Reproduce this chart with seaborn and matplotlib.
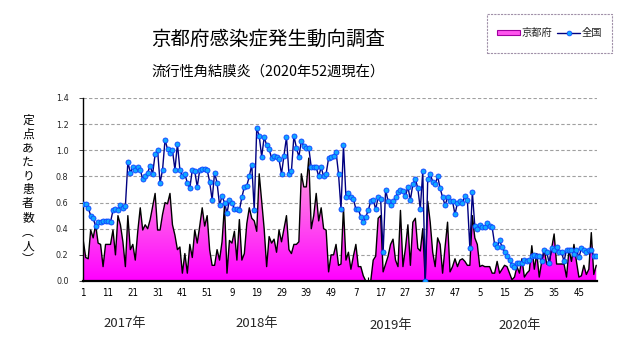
import numpy as np
import pandas as pd
import matplotlib
matplotlib.use("Agg")
import matplotlib.pyplot as plt
import seaborn as sns
from matplotlib.patches import Patch, Rectangle
from matplotlib.lines import Line2D
from matplotlib.colors import LinearSegmentedColormap

# ---------------- data ----------------
years = ["2017年", "2018年", "2019年", "2020年"]
weeks_per_year = [52, 52, 52, 52]

kyoto_2017 = [0.31, 0.18, 0.17, 0.39, 0.33, 0.43, 0.29, 0.28, 0.11, 0.28,
              0.28, 0.28, 0.39, 0.20, 0.50, 0.43, 0.30, 0.11, 0.50, 0.24,
              0.28, 0.16, 0.38, 0.56, 0.39, 0.43, 0.40, 0.47, 0.57, 0.67,
              0.39, 0.39, 0.51, 0.60, 0.59, 0.67, 0.43, 0.35, 0.24, 0.26,
              0.06, 0.21, 0.06, 0.28, 0.18, 0.39, 0.29, 0.42, 0.56, 0.42,
              0.50, 0.24]
kyoto_2018 = [0.12, 0.12, 0.24, 0.16, 0.30, 0.58, 0.06, 0.31, 0.29, 0.38,
              0.16, 0.47, 0.16, 0.21, 0.44, 0.56, 0.48, 0.46, 0.38, 0.82,
              0.61, 0.40, 0.11, 0.34, 0.29, 0.32, 0.22, 0.39, 0.30, 0.40,
              0.50, 0.24, 0.21, 0.28, 0.28, 0.30, 0.82, 0.72, 0.72, 0.94,
              0.40, 0.50, 0.67, 0.46, 0.56, 0.40, 0.39, 0.07, 0.20, 0.20,
              0.28, 0.12]
kyoto_2019 = [0.13, 0.56, 0.16, 0.22, 0.09, 0.19, 0.28, 0.11, 0.11, 0.04,
              0.00, 0.00, 0.00, 0.16, 0.19, 0.48, 0.50, 0.07, 0.13, 0.19,
              0.28, 0.32, 0.16, 0.11, 0.54, 0.11, 0.25, 0.43, 0.12, 0.45,
              0.48, 0.25, 0.23, 0.40, 0.00, 0.61, 0.45, 0.22, 0.11, 0.33,
              0.28, 0.06, 0.26, 0.45, 0.07, 0.11, 0.17, 0.11, 0.16, 0.17,
              0.15, 0.12]
kyoto_2020 = [0.12, 0.50, 0.33, 0.28, 0.11, 0.12, 0.11, 0.11, 0.11, 0.06,
              0.06, 0.15, 0.06, 0.09, 0.12, 0.11, 0.06, 0.01, 0.03, 0.11,
              0.06, 0.17, 0.03, 0.06, 0.08, 0.27, 0.09, 0.21, 0.03, 0.15,
              0.24, 0.13, 0.13, 0.25, 0.36, 0.13, 0.13, 0.13, 0.13, 0.03,
              0.24, 0.15, 0.28, 0.15, 0.03, 0.04, 0.12, 0.05, 0.09, 0.37,
              0.05, 0.12]

national_2017 = [0.59, 0.59, 0.56, 0.50, 0.48, 0.42, 0.45, 0.45, 0.46, 0.46,
                 0.46, 0.45, 0.54, 0.55, 0.54, 0.58, 0.56, 0.57, 0.91, 0.83,
                 0.87, 0.85, 0.87, 0.85, 0.78, 0.80, 0.83, 0.88, 0.82, 0.97,
                 1.00, 0.75, 0.85, 1.08, 1.01, 0.98, 1.00, 0.85, 1.05, 0.85,
                 0.80, 0.82, 0.75, 0.71, 0.85, 0.84, 0.72, 0.85, 0.86, 0.86,
                 0.85, 0.76]
national_2018 = [0.62, 0.83, 0.75, 0.58, 0.65, 0.60, 0.52, 0.62, 0.60, 0.55,
                 0.55, 0.54, 0.64, 0.72, 0.73, 0.80, 0.89, 0.54, 1.17, 1.11,
                 0.95, 1.10, 1.04, 1.01, 0.94, 0.96, 0.95, 0.93, 0.82, 0.96,
                 1.10, 0.82, 0.84, 1.11, 1.02, 0.95, 1.07, 1.03, 1.02, 1.02,
                 0.87, 0.87, 0.87, 0.80, 0.87, 0.80, 0.82, 0.94, 0.95, 0.96,
                 0.99, 0.82]
national_2019 = [0.55, 1.04, 0.64, 0.67, 0.64, 0.63, 0.55, 0.55, 0.49, 0.45,
                 0.49, 0.54, 0.61, 0.62, 0.55, 0.64, 0.63, 0.22, 0.70, 0.61,
                 0.58, 0.61, 0.64, 0.68, 0.70, 0.69, 0.65, 0.72, 0.62, 0.74,
                 0.78, 0.71, 0.55, 0.84, 0.00, 0.78, 0.82, 0.76, 0.74, 0.80,
                 0.71, 0.64, 0.58, 0.64, 0.61, 0.61, 0.51, 0.60, 0.61, 0.60,
                 0.65, 0.62]
national_2020 = [0.25, 0.68, 0.42, 0.40, 0.43, 0.41, 0.41, 0.44, 0.42, 0.41,
                 0.28, 0.26, 0.31, 0.26, 0.22, 0.19, 0.16, 0.12, 0.11, 0.14,
                 0.14, 0.14, 0.16, 0.15, 0.16, 0.19, 0.20, 0.19, 0.19, 0.15,
                 0.24, 0.22, 0.14, 0.25, 0.24, 0.26, 0.22, 0.22, 0.15, 0.24,
                 0.24, 0.24, 0.21, 0.24, 0.18, 0.25, 0.24, 0.22, 0.24, 0.24,
                 0.19, 0.19]

y_ticks = [0.0, 0.2, 0.4, 0.6, 0.8, 1.0, 1.2, 1.4]

kyoto = np.array(kyoto_2017 + kyoto_2018 + kyoto_2019 + kyoto_2020)
national = np.array(national_2017 + national_2018 + national_2019 + national_2020)
week_no = np.concatenate([np.arange(1, n + 1) for n in weeks_per_year])
idx = np.arange(len(kyoto))
df = pd.DataFrame({"idx": idx, "week": week_no, "kyoto": kyoto, "national": national})

# ---------------- figure ----------------
sns.set_style("white")
plt.rcParams["font.family"] = ["Noto Sans CJK JP", "DejaVu Sans"]

W, H = 631, 347
fig = plt.figure(figsize=(W / 100, H / 100), dpi=100)
fig.patch.set_facecolor("white")
ax = fig.add_axes([82.5 / W, 1 - 281 / H, (597 - 82.5) / W, (281 - 98) / H])

# gradient-filled area for Kyoto
poly = ax.fill_between(df["idx"], df["kyoto"], 0, facecolor="none", edgecolor="none")
cmap = LinearSegmentedColormap.from_list("pk", ["#FF00FF", "#FF55EE", "#FFA8E0"])
grad = np.linspace(0, 1, 256).reshape(-1, 1)
im = ax.imshow(grad, extent=[-1, len(idx), 0, 0.95], origin="lower", aspect="auto",
               cmap=cmap, zorder=1, interpolation="bilinear")
im.set_clip_path(poly.get_paths()[0], transform=ax.transData)
ax.plot(df["idx"], df["kyoto"], color="black", lw=1.0, zorder=2)

# national line
sns.lineplot(data=df, x="idx", y="national", ax=ax, color="#000080", lw=1.0,
             marker="o", markersize=3.6, markerfacecolor="#10A8FF",
             markeredgecolor="#1040FF", markeredgewidth=0.6, zorder=3)

ax.set_xlim(-0.3, len(idx) - 0.7)
ax.set_ylim(0, 1.4)
ax.set_yticks(y_ticks)
ax.set_yticklabels([f"{v:.1f}" for v in y_ticks], fontsize=6.5, family="DejaVu Sans",
                   fontstretch="condensed")
major = idx[::10]
ax.set_xticks(major)
ax.set_xticklabels([str(w) for w in week_no[::10]], fontsize=7, family="DejaVu Sans",
                   fontstretch="condensed")
ax.set_xticks(idx[5::10], minor=True)
ax.tick_params(axis="x", which="both", direction="in", length=3, width=0.8, pad=5,
               colors="black", bottom=True)
ax.tick_params(axis="y", direction="out", length=3, width=0.6, pad=7, left=True)
ax.set_xlabel("")
ax.set_ylabel("")
ax.yaxis.grid(True, linestyle=(0, (3, 2)), color="#a0a0a0", lw=0.8)
ax.xaxis.grid(False)
ax.set_axisbelow(True)
for s in ["top", "right"]:
    ax.spines[s].set_visible(False)
ax.spines["left"].set_color("black")
ax.spines["left"].set_linewidth(1.0)
ax.spines["bottom"].set_color("black")
ax.spines["bottom"].set_linewidth(1.6)

# titles
fig.text(268 / W, 1 - 39 / H, "京都府感染症発生動向調査", ha="center", va="center",
         fontsize=14, color="black")
fig.text(268 / W, 1 - 72 / H, "流行性角結膜炎（2020年52週現在）", ha="center", va="center",
         fontsize=10.3, color="black")

# vertical y label
ylab = "定点あたり患者数︵人︶"
fig.text(28 / W, 1 - 190 / H, "\n".join(ylab), ha="center", va="center",
         fontsize=8.5, linespacing=1.1, color="black")

# year labels
for yl, (xp, yp) in zip(years, [(125, 323), (257, 323), (391, 325), (520, 325)]):
    fig.text(xp / W, 1 - yp / H, yl, ha="center", va="center", fontsize=9.5)

# legend
handles = [Patch(facecolor="#FF55EE", edgecolor="#A000A0", lw=0.8),
           Line2D([0], [0], color="#000080", lw=1.0, marker="o", markersize=3.5,
                  markerfacecolor="#10A8FF", markeredgecolor="#1040FF", markeredgewidth=0.5)]
fig.legend(handles, ["京都府", "全国"], loc="center", bbox_to_anchor=(549.5 / W, 1 - 33 / H),
           ncol=2, frameon=False, fontsize=7.4, handlelength=2.2, handleheight=0.45,
           handletextpad=0.15, columnspacing=0.5, borderpad=0.2)
fig.patches.append(Rectangle((487 / W, 1 - 53 / H), 125 / W, 39 / H, transform=fig.transFigure,
                             facecolor="none", edgecolor="#a090a8", lw=0.8,
                             linestyle=(0, (2, 1))))

fig.savefig("out.png", dpi=100)
